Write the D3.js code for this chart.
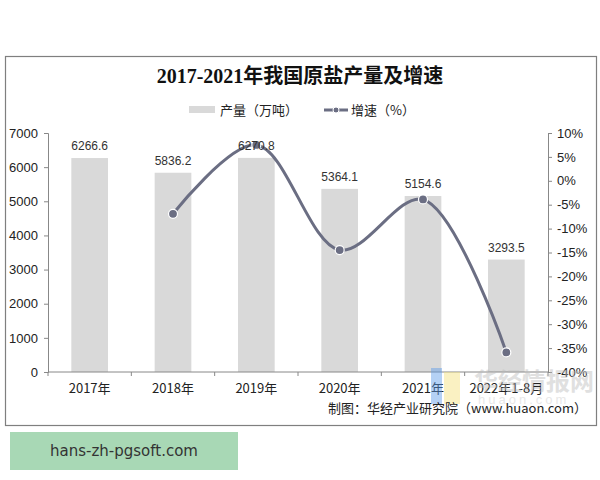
<!DOCTYPE html>
<html><head><meta charset="utf-8">
<script src="https://cdn.jsdelivr.net/npm/d3@7"></script>
<style>body{margin:0;background:#fff}svg{display:block}</style>
</head><body>
<svg id="c" width="600" height="480"></svg>
<script>
const categories = ["2017年","2018年","2019年","2020年","2021年","2022年1-8月"];
const production = [6266.6, 5836.2, 6270.8, 5364.1, 5154.6, 3293.5];
const growth = [null, -6.9, 7.5, -14.5, -3.9, -35.9];
const leftTicks = [0,1000,2000,3000,4000,5000,6000,7000];
const rightTicks = [10,5,0,-5,-10,-15,-20,-25,-30,-35,-40];

const svg = d3.select("#c");
const cjk = "'Noto Sans CJK SC', 'Liberation Sans', sans-serif";
const L = 48, R = 548, T = 133, B = 372;

// frame
svg.append("rect").attr("x",5.5).attr("y",56.5).attr("width",591).attr("height",369)
  .attr("fill","#fff").attr("stroke","#7f7f7f").attr("stroke-width",1.2);

// title
svg.append("text").attr("x",300).attr("y",83).attr("text-anchor","middle")
  .attr("font-family","'Liberation Serif', 'Noto Sans CJK SC', serif").attr("font-weight","bold")
  .attr("font-size",20).attr("fill","#111").text("2017-2021年我国原盐产量及增速");

const x = d3.scaleBand().domain(categories).range([L,R]).paddingInner(0.56).paddingOuter(0.28);
const xb = d3.scaleBand().domain(categories).range([L,R]);
const y = d3.scaleLinear().domain([0,7000]).range([B,T]);
const y2 = d3.scaleLinear().domain([-40,10]).range([B,T]);

// bars
svg.append("g").selectAll("rect").data(production).join("rect")
  .attr("x",(d,i)=>x(categories[i])).attr("width",x.bandwidth())
  .attr("y",d=>y(d)).attr("height",d=>B-y(d)).attr("fill","#d9d9d9");

// left axis
const gl = svg.append("g").attr("transform",`translate(${L},0)`)
  .call(d3.axisLeft(y).tickValues(leftTicks).tickSize(4).tickPadding(6).tickFormat(d3.format("d")));
gl.selectAll("path,line").attr("stroke","#888");
gl.selectAll("text").attr("font-family","'Liberation Sans', Arial, sans-serif").attr("font-size",13).attr("fill","#222");

// right axis
const gr = svg.append("g").attr("transform",`translate(${R},0)`)
  .call(d3.axisRight(y2).tickValues(rightTicks).tickSize(4).tickPadding(5).tickFormat(d=>d+"%"));
gr.selectAll("path,line").attr("stroke","#888");
gr.selectAll("text").attr("font-family","'Liberation Sans', Arial, sans-serif").attr("font-size",13).attr("fill","#222");

// x axis
const gx = svg.append("g").attr("transform",`translate(0,${B})`);
gx.append("line").attr("x1",L).attr("x2",R).attr("stroke","#888");
gx.selectAll("line.t").data(categories.concat(["end"])).join("line").attr("class","t")
  .attr("x1",(d,i)=>L+i*xb.bandwidth()).attr("x2",(d,i)=>L+i*xb.bandwidth())
  .attr("y1",0).attr("y2",4).attr("stroke","#888");
gx.selectAll("text").data(categories).join("text")
  .attr("x",d=>xb(d)+xb.bandwidth()/2).attr("y",21).attr("text-anchor","middle")
  .attr("font-family",cjk).attr("font-size",13).attr("fill","#222").text(d=>d);

// watermark
const wm = svg.append("g").attr("opacity",0.45);
wm.append("rect").attr("x",431).attr("y",368).attr("width",11).attr("height",36).attr("fill","#5b9bea");
wm.append("rect").attr("x",444).attr("y",372).attr("width",16).attr("height",32).attr("fill","#f5e27a");
wm.append("text").attr("x",474).attr("y",390).attr("font-family",cjk).attr("font-size",24).attr("font-weight","bold")
  .attr("fill","#bbb").text("华经情报网");
wm.append("text").attr("x",478).attr("y",404).attr("font-family","'Liberation Sans', sans-serif").attr("font-size",13)
  .attr("fill","#ccc").attr("letter-spacing",3).text("huaon.com");

// growth line
const pts = growth.map((g,i)=>({g,i})).filter(d=>d.g!==null);
const line = d3.line().x(d=>xb(categories[d.i])+xb.bandwidth()/2).y(d=>y2(d.g)).curve(d3.curveCatmullRom.alpha(0.5));
svg.append("path").datum(pts).attr("d",line).attr("fill","none").attr("stroke","#6b6e83").attr("stroke-width",3);
svg.append("g").selectAll("circle").data(pts).join("circle")
  .attr("cx",d=>xb(categories[d.i])+xb.bandwidth()/2).attr("cy",d=>y2(d.g)).attr("r",4.5)
  .attr("fill","#6b6e83").attr("stroke","#fff").attr("stroke-width",1.2);

// bar labels (drawn above the line)
svg.append("g").selectAll("text").data(production).join("text")
  .attr("x",(d,i)=>x(categories[i])+x.bandwidth()/2).attr("y",d=>y(d)-8)
  .attr("text-anchor","middle").attr("font-family","'Liberation Sans', Arial, sans-serif")
  .attr("font-size",12).attr("fill","#333").text(d=>d.toFixed(1));

// legend
svg.append("rect").attr("x",189).attr("y",106).attr("width",26).attr("height",7).attr("fill","#d9d9d9");
svg.append("text").attr("x",220).attr("y",115).attr("font-family",cjk).attr("font-size",13).attr("fill","#222").text("产量（万吨）");
svg.append("line").attr("x1",324).attr("x2",348).attr("y1",110).attr("y2",110).attr("stroke","#6b6e83").attr("stroke-width",3);
svg.append("circle").attr("cx",336).attr("cy",110).attr("r",3).attr("fill","#6b6e83").attr("stroke","#fff");
svg.append("text").attr("x",351).attr("y",115).attr("font-family",cjk).attr("font-size",13).attr("fill","#222").text("增速（%）");

// credit
svg.append("text").attr("x",587).attr("y",413).attr("text-anchor","end").attr("font-family",cjk)
  .attr("font-size",13).attr("fill","#222").text("制图：华经产业研究院（www.huaon.com）");

// green box
svg.append("rect").attr("x",10).attr("y",432).attr("width",228).attr("height",38).attr("fill","#a8d8b5");
svg.append("text").attr("x",124).attr("y",456).attr("text-anchor","middle").attr("font-family","'DejaVu Sans', sans-serif")
  .attr("font-size",15).attr("fill","#333").text("hans-zh-pgsoft.com");
</script>
</body></html>
